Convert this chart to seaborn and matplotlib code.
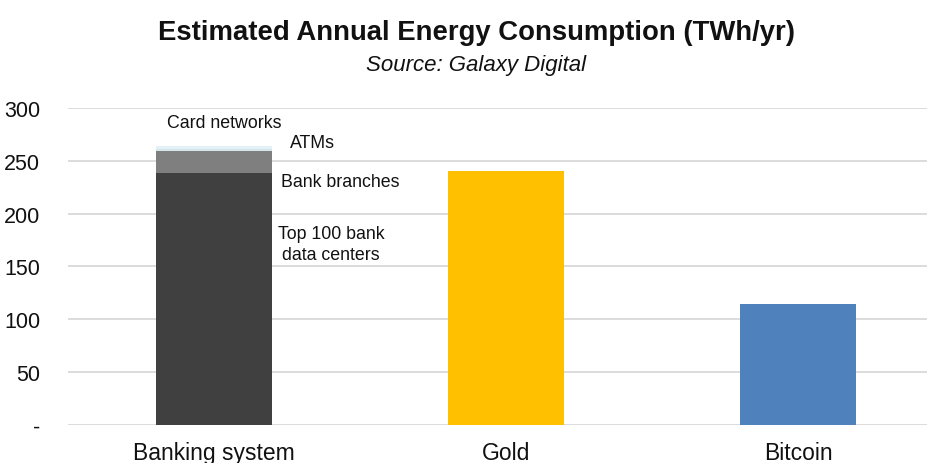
import matplotlib
matplotlib.use("Agg")
import matplotlib.pyplot as plt
import seaborn as sns
import pandas as pd
import numpy as np

# ---- data ----
categories = ["Banking system", "Gold", "Bitcoin"]
banking_components = ["Top 100 bank\ndata centers", "Bank branches", "ATMs", "Card networks"]
banking_values = [238.3, 20.6, 2.3, 2.5]
gold_value = 240.6
bitcoin_value = 113.9
y_ticks = [0, 50, 100, 150, 200, 250, 300]
y_tick_labels = ["-", "50", "100", "150", "200", "250", "300"]

component_colors = ["#404040", "#7F7F7F", "#D3E6EC", "#E4F1F4"]
gold_color = "#FFC000"
bitcoin_color = "#4F81BD"

sns.set_theme(style="white")
plt.rcParams["font.family"] = ["Liberation Sans", "DejaVu Sans"]

fig = plt.figure(figsize=(9.28, 4.64), dpi=100)
ax = fig.add_axes([68 / 928, 1 - 425.7 / 464, 1 - 68 / 928, (425.7 - 109) / 464])

# draw cumulative layers back-to-front (tallest first)
cum = np.cumsum(banking_values)
for i in range(len(banking_values) - 1, -1, -1):
    vals = [cum[i], gold_value if i == len(banking_values) - 1 else 0,
            bitcoin_value if i == len(banking_values) - 1 else 0]
    df = pd.DataFrame({"category": categories, "value": vals})
    pal = {categories[0]: component_colors[i], categories[1]: gold_color,
           categories[2]: bitcoin_color}
    sns.barplot(data=df, x="category", y="value", hue="category", order=categories,
                palette=pal, legend=False, width=0.4, ax=ax, saturation=1,
                linewidth=0, zorder=3)

ax.set_xlim(-0.5, 2.445)
ax.set_ylim(0, 300)
ax.set_yticks(y_ticks)
ax.set_yticklabels(y_tick_labels)
ax.yaxis.grid(True, color="#D9D9D9", linewidth=1.3, zorder=0)
ax.set_axisbelow(True)
for s in ax.spines.values():
    s.set_visible(False)
ax.tick_params(axis="y", length=0, pad=20, labelsize=15.5, colors="#111111")
ax.tick_params(axis="x", length=0, pad=12, labelsize=16.5, colors="#111111")
ax.set_xlabel("")
ax.set_ylabel("")

# component annotations
ann_kw = dict(fontsize=12.8, color="#111111", va="center")
ax.text(-0.16, 286, banking_components[3], ha="left", **ann_kw)
ax.text(0.26, 267, banking_components[2], ha="left", **ann_kw)
ax.text(0.23, 230, banking_components[1], ha="left", **ann_kw)
ax.text(0.40, 171, banking_components[0], ha="center", linespacing=1.35, **ann_kw)

fig.text(477 / 928, 1 - 33 / 464, "Estimated Annual Energy Consumption (TWh/yr)",
         ha="center", va="center", fontsize=19.8, fontweight="bold", color="#111111")
fig.text(476 / 928, 1 - 66 / 464, "Source: Galaxy Digital",
         ha="center", va="center", fontsize=16, style="italic", color="#111111")

fig.savefig("out.png", dpi=100)
